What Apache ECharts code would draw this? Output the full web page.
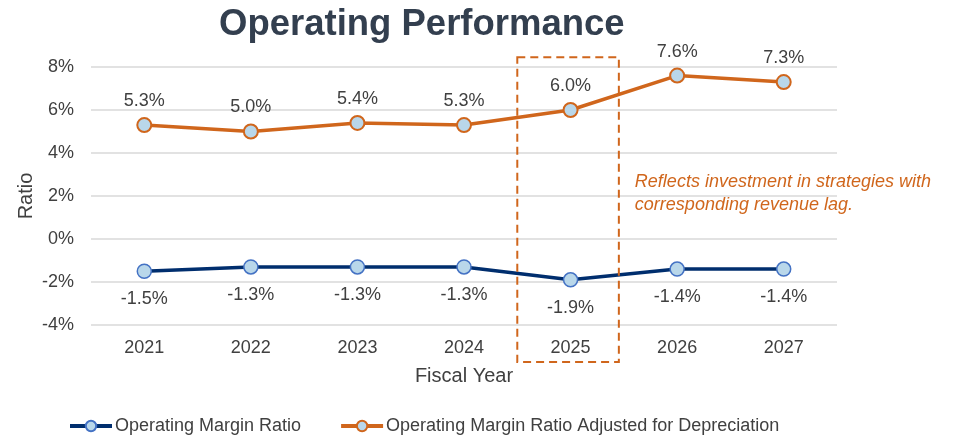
<!DOCTYPE html>
<html><head><meta charset="utf-8">
<script src="https://cdn.jsdelivr.net/npm/echarts@6/dist/echarts.min.js"></script>
<style>html,body{margin:0;padding:0;background:#fff}#c{width:956px;height:442px}</style>
</head><body><div id="c"></div>
<script>
const years = ['2021','2022','2023','2024','2025','2026','2027'];
const operatingMargin = [-1.5, -1.3, -1.3, -1.3, -1.9, -1.4, -1.4];
const adjustedMargin = [5.3, 5.0, 5.4, 5.3, 6.0, 7.6, 7.3];
const yTicks = [-4, -2, 0, 2, 4, 6, 8];
const highlightYear = '2025';
const noteLines = ['Reflects investment in strategies with', 'corresponding revenue lag.'];

const txt = '#404040';
const font = 'Liberation Sans, Arial, sans-serif';
const chart = echarts.init(document.getElementById('c'));
chart.setOption({
  animation: false,
  textStyle: {fontFamily: font},
  title: {text: 'Operating Performance', left: 214, top: 1,
    textStyle: {fontSize: 36.5, fontWeight: 'bold', color: '#333f4f', fontFamily: font}},
  grid: {left: 91, right: 119, top: 67, bottom: 117},
  legend: {bottom: 2, left: 63, itemWidth: 42, itemHeight: 13, itemGap: 38,
    lineStyle: {width: 4},
    textStyle: {fontSize: 18, color: txt, fontFamily: font, padding: [0,0,0,-2]}},
  xAxis: {type: 'category', data: years, name: 'Fiscal Year', nameLocation: 'middle', nameGap: 41,
    nameMoveOverlap: false,
    nameTextStyle: {fontSize: 20, color: txt},
    axisLine: {show: false}, axisTick: {show: false},
    axisLabel: {fontSize: 18, color: txt, margin: 14}},
  yAxis: {type: 'value', min: yTicks[0], max: yTicks[yTicks.length-1], interval: 2,
    name: 'Ratio', nameLocation: 'middle', nameGap: 55, nameRotate: 90,
    nameMoveOverlap: false,
    nameTextStyle: {fontSize: 20, color: txt},
    axisLabel: {formatter: '{value}%', fontSize: 18, color: txt, margin: 17},
    splitLine: {lineStyle: {color: '#d9d9d9', width: 1.5}}},
  series: [
    {name: 'Operating Margin Ratio', type: 'line', data: operatingMargin,
      symbol: 'circle', symbolSize: 14,
      lineStyle: {color: '#002e6e', width: 3.5}, itemStyle: {color: '#b9d7ea', borderColor: '#4472c4', borderWidth: 1.5},
      label: {show: true, position: 'bottom', distance: 11, fontSize: 18, color: txt,
        formatter: p => p.value.toFixed(1) + '%'}},
    {name: 'Operating Margin Ratio Adjusted for Depreciation', type: 'line', data: adjustedMargin,
      symbol: 'circle', symbolSize: 14,
      lineStyle: {color: '#d0661c', width: 3.5}, itemStyle: {color: '#b9d7ea', borderColor: '#d0661c', borderWidth: 2},
      label: {show: true, position: 'top', distance: 7, fontSize: 18, color: txt,
        formatter: p => p.value.toFixed(1) + '%'}}
  ]
});
const cx = chart.convertToPixel({xAxisIndex: 0}, highlightYear);
const c0 = chart.convertToPixel({xAxisIndex: 0}, years[0]);
const c1 = chart.convertToPixel({xAxisIndex: 0}, years[1]);
const half = (c1 - c0) / 2;
const yTop = chart.convertToPixel({yAxisIndex: 0}, 8.45);
const yBot = chart.convertToPixel({yAxisIndex: 0}, -5.72);
const yNote = chart.convertToPixel({yAxisIndex: 0}, 2.6);
chart.setOption({graphic: [
  {type: 'rect', shape: {x: cx - half, y: yTop, width: 2*half - 5, height: yBot - yTop},
    style: {fill: 'none', stroke: '#d0661c', lineWidth: 2, lineDash: [8, 5]}, z: 10},
  {type: 'text', left: cx + half + 11, top: yNote - 13,
    style: {text: noteLines.join('\n'), fill: '#d0661c', font: 'italic 18px ' + font, lineHeight: 23}}
]});
</script></body></html>
